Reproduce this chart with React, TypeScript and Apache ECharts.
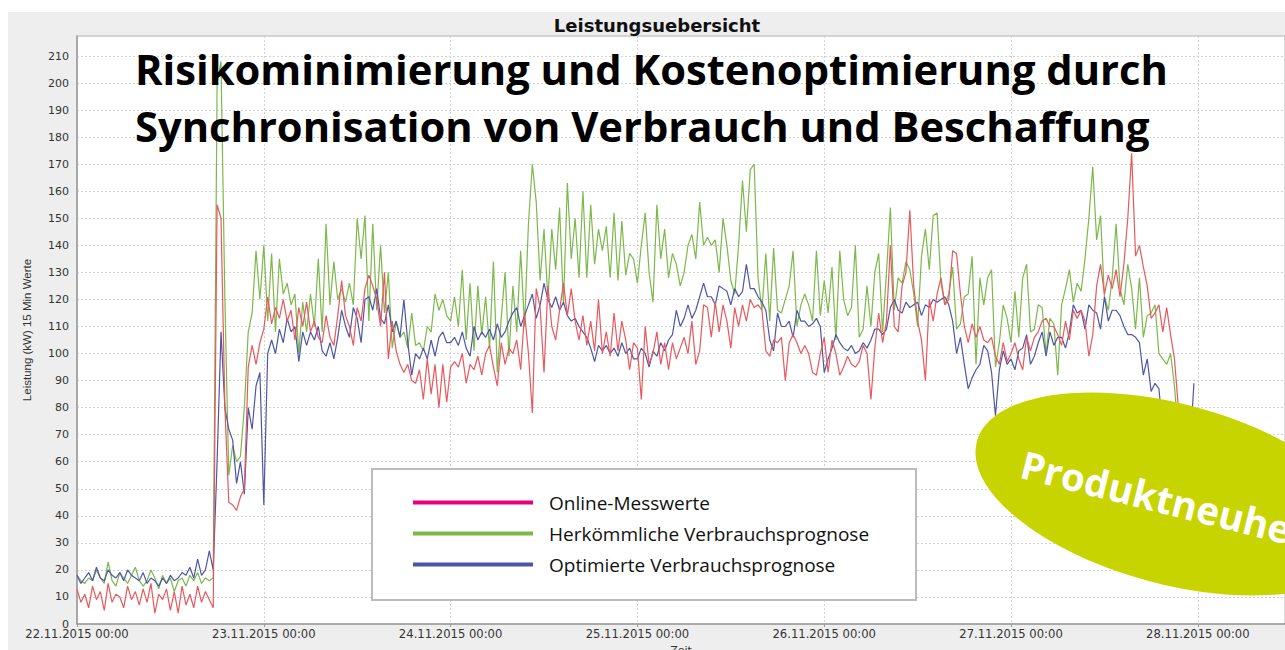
import React, { useEffect, useRef } from "react";
import * as echarts from "echarts";

// X axis: hours since 22.11.2015 00:00, one tick per day
const dayLabels = [
  "22.11.2015 00:00",
  "23.11.2015 00:00",
  "24.11.2015 00:00",
  "25.11.2015 00:00",
  "26.11.2015 00:00",
  "27.11.2015 00:00",
  "28.11.2015 00:00",
];
const STEP_HOURS = 0.5; // one value every 30 minutes

const seriesNames = [
  "Online-Messwerte",
  "Herkömmliche Verbrauchsprognose",
  "Optimierte Verbrauchsprognose",
];

// Online-Messwerte (kW)
const online = [
  13, 8, 11, 6, 14, 9, 12, 5, 15, 8, 11, 10, 6, 14, 9, 12, 7, 13, 8, 15, 4, 11, 9, 13, 5, 12, 4, 14, 7, 11, 6, 14, 8, 12, 9, 6,
  155, 150, 80, 45, 44, 42, 47, 50, 95, 103, 96, 104,
  109, 121, 111, 117, 113, 120, 112, 116, 105, 117, 110, 119, 108, 112, 106, 104, 114, 106, 103, 114, 127, 114, 110, 103, 117, 112, 124, 129, 125, 120, 110, 130, 98, 112, 101, 96, 93, 96, 90, 89, 94, 83, 98, 85, 96, 80, 96, 82,
  95, 97, 95, 100, 89, 96, 94, 99, 92, 100, 103, 95, 88, 104, 96, 102, 100, 105, 94, 115, 100, 78, 124, 117, 93, 125, 110, 105, 116, 126, 114, 124, 112, 105, 114, 103, 112, 101, 120, 100, 108, 99, 115, 101, 112, 105, 94, 104,
  102, 83, 110, 96, 100, 108, 96, 104, 94, 104, 98, 102, 106, 100, 112, 96, 101, 118, 117, 106, 119, 108, 118, 112, 102, 117, 110, 118, 112, 120, 117, 118, 116, 101, 99, 105, 104, 106, 90, 104, 107, 104, 100, 103, 100, 93, 92, 100,
  106, 93, 105, 100, 92, 95, 99, 96, 95, 97, 103, 100, 83, 102, 115, 104, 112, 140, 110, 108, 125, 130, 153, 125, 112, 105, 90, 120, 112, 122, 128, 118, 120,
  138, 137, 122, 110, 104, 111, 106, 110, 105, 104, 106, 99, 96, 104, 97, 100, 104, 98, 94, 106, 101, 106, 108, 112, 113, 110, 110, 107, 103, 112,
  105, 116, 113, 116, 112, 99, 107, 125, 133, 122, 129, 124, 131, 121, 133, 150, 174, 136, 140, 132, 125, 113, 115, 118, 108, 117, 107, 98, 80, 65,
];

// Herkömmliche Verbrauchsprognose (kW)
const conventional = [
  18, 16, 15, 17, 16, 20, 17, 15, 23, 16, 14, 19, 17, 15, 18, 21, 16, 14, 16, 20, 17, 13, 18, 15, 17, 12, 16, 17, 14, 18, 16, 19, 15, 17, 16, 17,
  200, 208, 120, 55, 66, 60, 62, 80, 108, 115, 138, 120,
  140, 112, 137, 108, 135, 122, 126, 118, 122, 100, 119, 108, 122, 110, 135, 108, 148, 118, 134, 120, 124, 119, 126, 118, 150, 135, 151, 112, 148, 116, 140, 115, 130, 102, 112, 106, 108, 102, 115, 103, 104, 101, 110, 108, 122, 116, 120, 114,
  112, 121, 110, 131, 105, 126, 101, 125, 107, 121, 102, 134, 93, 113, 130, 99, 125, 108, 138, 110, 148, 170, 156, 127, 146, 120, 146, 131, 154, 118, 163, 135, 150, 128, 160, 128, 155, 133, 146, 138, 147, 128, 152, 127, 149, 129, 137, 135,
  126, 140, 152, 130, 119, 155, 135, 146, 128, 137, 133, 125, 130, 140, 144, 135, 156, 140, 143, 140, 142, 130, 150, 140, 127, 122, 140, 164, 145, 168, 170, 128, 116, 137, 112, 139, 116, 115, 120, 125, 138, 110, 118, 122, 118, 112, 138, 114,
  127, 115, 132, 105, 138, 120, 114, 117, 140, 106, 109, 125, 110, 130, 137, 108, 130, 154, 116, 128, 126, 134, 131, 122, 110, 136, 146, 131, 151, 152, 126, 118, 122,
  132, 109, 111, 121, 122, 136, 96, 128, 118, 128, 131, 95, 104, 118, 113, 104, 123, 106, 128, 133, 108, 109, 118, 117, 100, 113, 111, 92, 118, 124,
  131, 119, 126, 123, 135, 150, 169, 142, 151, 121, 116, 128, 148, 124, 118, 133, 124, 109, 128, 106, 114, 115, 118, 100, 98, 96, 100, 88, 70,
];

// Optimierte Verbrauchsprognose (kW)
const optimized = [
  18, 15, 17, 19, 16, 21, 17, 16, 20, 18, 17, 19, 16, 20, 18, 17, 16, 19, 15, 17, 16, 14, 17, 15, 18, 16, 17, 19, 18, 21, 17, 24, 18, 20, 27, 20,
  60, 108, 80, 72, 68, 52, 60, 48, 80, 72, 88, 93,
  44, 100, 105, 100, 109, 104, 113, 108, 110, 97, 108, 103, 108, 105, 110, 101, 99, 104, 98, 106, 116, 110, 106, 117, 113, 104, 120, 121, 116, 124, 113, 111, 118, 108, 112, 106, 120, 104, 92, 100, 98, 102, 98, 105, 99, 106, 108, 104,
  104, 106, 103, 108, 102, 99, 110, 105, 108, 106, 109, 105, 111, 106, 108, 112, 115, 117, 110, 114, 118, 122, 113, 118, 126, 120, 117, 121, 116, 119, 114, 112, 113, 110, 108, 106, 102, 97, 103, 101, 103, 100, 102, 99, 104, 100, 102, 98,
  98, 102, 100, 95, 101, 99, 104, 101, 105, 107, 116, 110, 113, 118, 113, 116, 121, 126, 121, 121, 118, 125, 124, 123, 118, 124, 121, 123, 133, 124, 124, 121, 119, 116, 105, 101, 115, 110, 110, 112, 106, 116, 112, 112, 110, 111, 113, 110,
  93, 98, 102, 107, 104, 102, 101, 103, 100, 101, 104, 102, 105, 109, 109, 107, 109, 117, 120, 116, 115, 119, 117, 118, 119, 114, 118, 117, 120, 119, 120, 121, 118,
  112, 100, 106, 96, 87, 91, 94, 96, 103, 101, 93, 77, 94, 101, 96, 98, 94, 101, 102, 107, 96, 99, 104, 108, 99, 108, 103, 106, 106, 102,
  108, 118, 115, 116, 109, 118, 116, 115, 109, 121, 112, 116, 116, 114, 110, 107, 107, 106, 104, 92, 98, 86, 89, 87, 72, 70, 74, 68, 72, 66, 70, 65, 89,
];

const toPairs = (arr: number[]) => arr.map((v, i) => [i * STEP_HOURS, v]);

const seriesColors = ["#e8585c", "#7cb84a", "#4e56a6"];
const legendColors = ["#e5007e", "#7ab648", "#4b55a3"];

export default function App() {
  const ref = useRef<HTMLDivElement>(null);

  useEffect(() => {
    if (!ref.current) return;
    const chart = echarts.init(ref.current, undefined, { renderer: "svg", width: 1285, height: 650 });
    const axisFont = { fontFamily: "DejaVu Sans", fontSize: 11, color: "#333" };

    chart.setOption({
      animation: false,
      backgroundColor: "#ffffff",
      title: {
        text: "Leistungsuebersicht",
        left: 652,
        top: 11,
        textAlign: "center",
        textStyle: { fontFamily: "DejaVu Sans", fontWeight: "bold", fontSize: 18, color: "#111" },
      },
      grid: {
        left: 77,
        top: 36,
        width: 1208,
        height: 588,
        outerBoundsMode: "none",
        containLabel: false,
        show: true,
        backgroundColor: "#ffffff",
        borderColor: "#b4b4b4",
        borderWidth: 1,
      },
      legend: {
        orient: "vertical",
        left: 413,
        top: 493,
        padding: 0,
        itemWidth: 120,
        itemHeight: 4,
        itemGap: 12,
        icon: "rect",
        selectedMode: false,
        z: 10,
        textStyle: { fontFamily: "Open Sans", fontSize: 19, color: "#111", padding: [0, 0, 0, 11] },
        data: seriesNames.map((n, k) => ({ name: n, itemStyle: { color: legendColors[k] } })),
      },
      xAxis: {
        type: "value",
        min: 0,
        max: 155.2,
        interval: 24,
        name: "Zeit",
        nameLocation: "middle",
        nameGap: 18,
        nameTextStyle: axisFont,
        axisLine: { show: true, lineStyle: { color: "#9a9a9a", width: 1.5 } },
        axisTick: { show: true, length: 3, lineStyle: { color: "#9a9a9a" } },
        axisLabel: {
          ...axisFont,
          fontSize: 11.6,
          margin: 4,
          formatter: (v: number) => (Math.abs(v / 24 - Math.round(v / 24)) < 1e-6 ? dayLabels[Math.round(v / 24)] || "" : ""),
        },
        splitLine: { show: true, lineStyle: { color: "#d2d2d2", type: [2, 2] } },
      },
      yAxis: {
        type: "value",
        min: 0,
        max: 217.4,
        interval: 10,
        name: "Leistung (kW) 15 Min Werte",
        nameLocation: "middle",
        nameGap: 44,
        nameTextStyle: { fontFamily: "Liberation Sans", fontSize: 11.5, color: "#333" },
        axisLine: { show: true, lineStyle: { color: "#9a9a9a", width: 1.5 } },
        axisTick: { show: false },
        axisLabel: {
          ...axisFont,
          margin: 8,
          formatter: (v: number) => (Math.abs(v % 10) < 1e-6 ? String(v) : ""),
        },
        splitLine: { show: true, lineStyle: { color: "#d2d2d2", type: [2, 2] } },
      },
      series: [
        {
          name: seriesNames[1],
          type: "line",
          data: toPairs(conventional),
          showSymbol: false,
          color: seriesColors[1],
          lineStyle: { width: 1.2, color: seriesColors[1] },
          z: 2,
        },
        {
          name: seriesNames[2],
          type: "line",
          data: toPairs(optimized),
          showSymbol: false,
          color: seriesColors[2],
          lineStyle: { width: 1.2, color: seriesColors[2] },
          z: 3,
        },
        {
          name: seriesNames[0],
          type: "line",
          data: toPairs(online),
          showSymbol: false,
          color: seriesColors[0],
          lineStyle: { width: 1.2, color: seriesColors[0] },
          z: 4,
        },
      ],
      graphic: [
        {
          type: "rect",
          z: -100,
          silent: true,
          shape: { x: 8, y: 12, width: 1277, height: 638 },
          style: { fill: "#eeeeee" },
        },
        {
          type: "rect",
          z: 5,
          silent: true,
          shape: { x: 372, y: 469, width: 544, height: 131 },
          style: { fill: "#ffffff", stroke: "#bcbcbc", lineWidth: 2 },
        },
        {
          type: "text",
          z: 100,
          silent: true,
          x: 135,
          y: 68,
          style: {
            text: "Risikominimierung und Kostenoptimierung durch",
            fontFamily: "Open Sans",
            fontWeight: "bold",
            fontSize: 41.7,
            fill: "#000",
            verticalAlign: "middle",
          },
        },
        {
          type: "text",
          z: 100,
          silent: true,
          x: 135,
          y: 125,
          style: {
            text: "Synchronisation von Verbrauch und Beschaffung",
            fontFamily: "Open Sans",
            fontWeight: "bold",
            fontSize: 41.7,
            fill: "#000",
            verticalAlign: "middle",
          },
        },
        {
          type: "ellipse",
          z: 100,
          silent: true,
          x: 1172,
          y: 494,
          rotation: (-15 * Math.PI) / 180,
          shape: { cx: 0, cy: 0, rx: 202, ry: 90 },
          style: { fill: "#c8d400" },
        },
        {
          type: "text",
          z: 101,
          silent: true,
          x: 1022,
          y: 463,
          rotation: (-14 * Math.PI) / 180,
          style: {
            text: "Produktneuheit",
            fontFamily: "Open Sans",
            fontWeight: "bold",
            fontSize: 38.5,
            fill: "#ffffff",
            verticalAlign: "middle",
          },
        },
      ],
    });

    return () => chart.dispose();
  }, []);

  return (
    <div
      ref={ref}
      style={{ position: "fixed", left: 0, top: 0, width: 1285, height: 650 }}
    />
  );
}
